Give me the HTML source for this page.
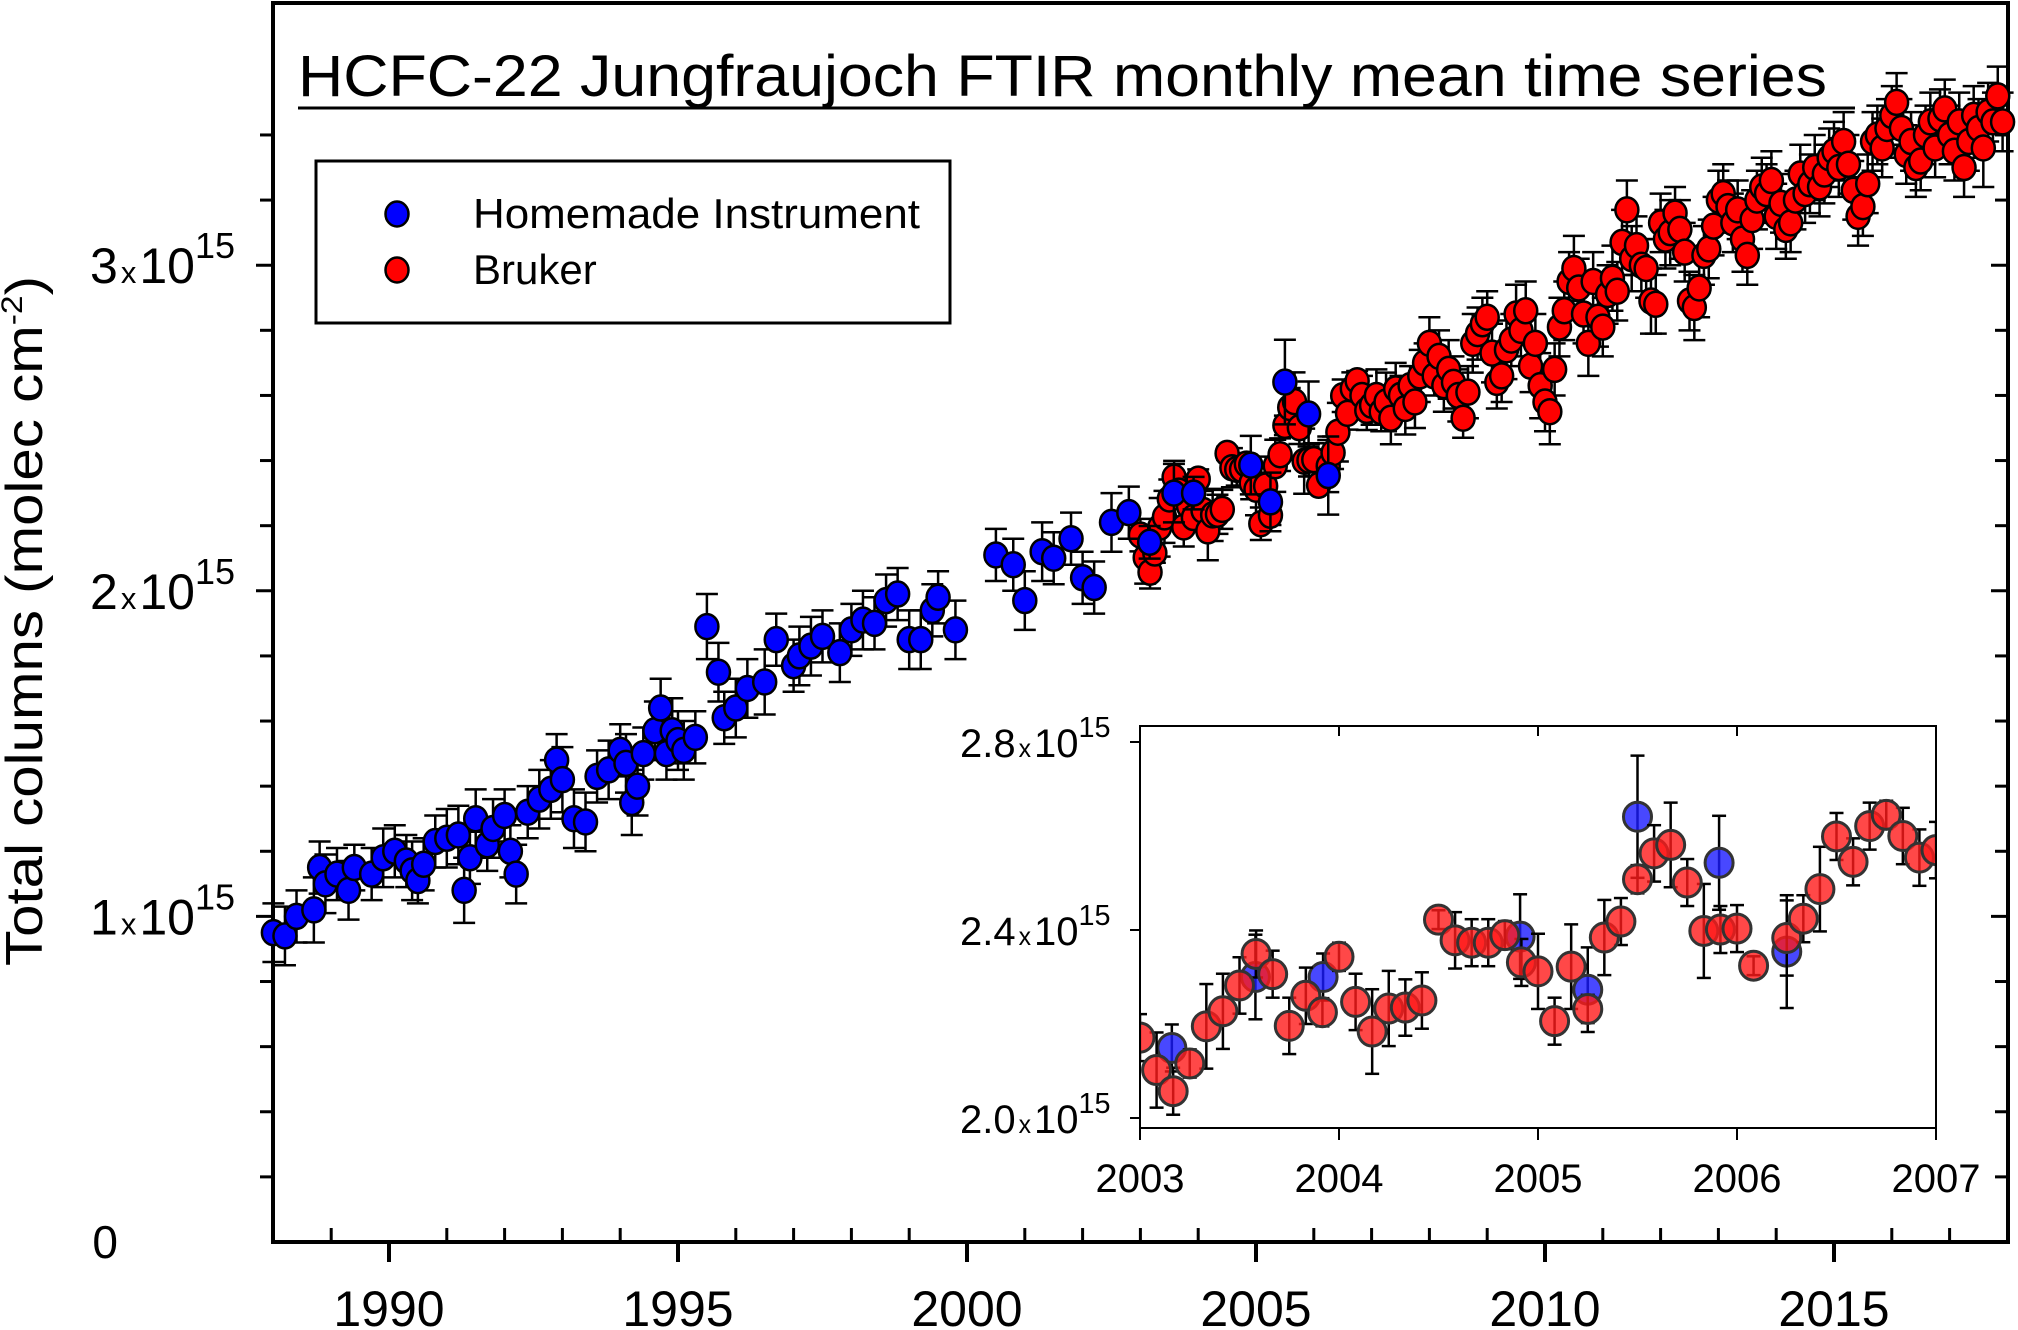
<!DOCTYPE html>
<html><head><meta charset="utf-8"><style>
html,body{margin:0;padding:0;background:#fff;}
svg{display:block;font-family:"Liberation Sans",sans-serif;}
</style></head><body>
<svg id="chart" width="2018" height="1330" viewBox="0 0 2018 1330" xmlns="http://www.w3.org/2000/svg">
<g id="main"></g>
</svg>
<script>
// ---------- data ----------
const blueYears = [1988.0,1988.2,1988.4,1988.7,1988.8,1988.9,1989.1,1989.3,1989.4,1989.7,1989.9,1990.1,1990.3,1990.4,1990.5,1990.6,1990.8,1991.0,1991.2,1991.3,1991.4,1991.5,1991.7,1991.8,1992.0,1992.1,1992.2,1992.4,1992.6,1992.8,1992.9,1993.0,1993.2,1993.4,1993.6,1993.8,1994.0,1994.1,1994.2,1994.3,1994.4,1994.6,1994.7,1994.8,1994.9,1995.0,1995.1,1995.3,1995.5,1995.7,1995.8,1996.0,1996.2,1996.5,1996.7,1997.0,1997.1,1997.3,1997.5,1997.8,1998.0,1998.2,1998.4,1998.6,1998.8,1999.0,1999.2,1999.4,1999.5,1999.8,2000.5,2000.8,2001.0,2001.3,2001.5,2001.8,2002.0,2002.2,2002.5,2002.8,2003.16,2003.58,2003.92,2004.91,2005.25,2005.5,2005.91,2006.25];
const blueValues = [0.95,0.94,1.00,1.02,1.15,1.10,1.13,1.08,1.15,1.13,1.18,1.20,1.17,1.14,1.11,1.16,1.23,1.24,1.25,1.08,1.18,1.30,1.22,1.27,1.31,1.20,1.13,1.32,1.36,1.39,1.48,1.42,1.30,1.29,1.43,1.45,1.51,1.47,1.35,1.40,1.50,1.57,1.64,1.50,1.57,1.54,1.51,1.55,1.89,1.75,1.61,1.64,1.70,1.72,1.85,1.77,1.80,1.83,1.86,1.81,1.88,1.91,1.90,1.97,1.99,1.85,1.85,1.94,1.98,1.88,2.11,2.08,1.97,2.12,2.10,2.16,2.04,2.01,2.21,2.24,2.149,2.30,2.30,2.386,2.273,2.641,2.543,2.354];
const blueErrors = [0.09,0.09,0.08,0.1,0.08,0.09,0.08,0.09,0.07,0.08,0.09,0.08,0.08,0.09,0.07,0.08,0.08,0.09,0.09,0.1,0.08,0.09,0.08,0.09,0.08,0.08,0.09,0.08,0.09,0.09,0.08,0.1,0.09,0.09,0.08,0.09,0.08,0.09,0.1,0.09,0.08,0.09,0.09,0.08,0.1,0.09,0.09,0.08,0.1,0.09,0.08,0.09,0.09,0.1,0.08,0.08,0.09,0.09,0.08,0.09,0.08,0.09,0.08,0.08,0.08,0.09,0.09,0.08,0.08,0.09,0.08,0.08,0.09,0.09,0.08,0.08,0.08,0.08,0.09,0.08,0.05,0.09,0.05,0.09,0.09,0.13,0.1,0.12];
const redStart = 2003.0; // monthly series
const redValues = [
2.171,2.102,2.057,2.116,2.195,2.227,2.282,2.349,2.306,2.196,2.260,2.225,
2.343,2.247,2.184,2.233,2.235,2.250,2.422,2.378,2.373,2.373,2.389,2.331,
2.312,2.206,2.322,2.232,2.384,2.418,2.508,2.563,2.581,2.501,2.398,2.401,
2.403,2.324,null,2.383,2.424,2.487,2.599,2.545,2.621,2.645,2.600,2.554,
2.57,2.60,2.55,2.58,2.53,2.62,2.60,2.56,2.63,2.58,2.66,2.70,
2.76,2.66,2.72,2.63,2.68,2.64,2.60,2.53,2.61,2.76,2.79,2.82,
2.84,2.73,2.64,2.66,2.74,2.77,2.85,2.80,2.86,2.69,2.76,2.63,
2.58,2.55,2.68,2.81,2.86,2.95,2.99,2.93,2.85,2.76,2.95,2.84,
2.81,2.91,2.96,2.92,3.07,3.17,3.02,3.06,3.00,2.99,2.89,2.88,
3.13,3.08,3.10,3.16,3.11,3.04,2.89,2.87,2.93,3.03,3.05,3.12,
3.20,3.22,3.18,3.13,3.17,3.08,3.03,3.14,3.20,3.24,3.22,3.26,
3.15,3.19,3.11,3.13,3.20,3.28,3.22,3.25,3.30,3.24,3.28,3.33,
3.35,3.30,3.38,3.31,3.23,3.15,3.18,3.25,3.38,3.40,3.36,3.42,
3.46,3.50,3.42,3.34,3.38,3.30,3.32,3.40,3.44,3.36,3.45,3.48,
3.40,3.35,3.44,3.30,3.38,3.46,3.42,3.36,3.47,3.44,3.52,3.44];
const redErrors = [
0.05,0.08,0.05,0.03,0.09,0.08,0.06,0.05,0.05,0.06,0.06,0.03,
0.03,0.06,0.09,0.08,0.06,0.06,0.02,0.06,0.05,0.05,0.03,0.05,
0.08,0.05,0.09,0.03,0.08,0.05,0.03,0.06,0.09,0.05,0.1,0.05,
0.05,0.02,0.06,0.08,0.05,0.09,0.05,0.05,0.05,0.03,0.06,0.06,
0.06,0.08,0.06,0.09,0.08,0.08,0.06,0.08,0.06,0.08,0.08,0.06,
0.08,0.06,0.08,0.08,0.09,0.08,0.08,0.06,0.08,0.09,0.08,0.08,
0.08,0.09,0.08,0.08,0.09,0.08,0.09,0.08,0.09,0.08,0.09,0.1,
0.09,0.1,0.08,0.09,0.09,0.09,0.1,0.09,0.09,0.1,0.09,0.09,
0.09,0.09,0.1,0.09,0.1,0.09,0.1,0.09,0.08,0.09,0.1,0.09,
0.09,0.09,0.1,0.08,0.09,0.09,0.09,0.1,0.09,0.09,0.09,0.09,
0.09,0.09,0.08,0.09,0.09,0.1,0.09,0.09,0.09,0.09,0.09,0.09,
0.1,0.09,0.09,0.09,0.09,0.09,0.09,0.09,0.1,0.09,0.09,0.09,
0.09,0.09,0.09,0.09,0.09,0.09,0.09,0.09,0.09,0.09,0.09,0.09,
0.09,0.09,0.09,0.09,0.09,0.09,0.09,0.09,0.09,0.09,0.09,0.09,
0.09,0.09,0.09,0.09,0.09,0.09,0.09,0.12,0.09,0.09,0.09,0.09];
const xTickLabels = ["1990","1995","2000","2005","2010","2015"];
const yTickValues = [1,2,3];
const insetXTickLabels = ["2003","2004","2005","2006","2007"];
const insetYTickLabels = ["2.0","2.4","2.8"];

// ---------- scales ----------
const X = yr => 273.4 + (yr - 1988) * 57.8;
const Y = v => 1242 - v * 325.6;
const IX = yr => 1140 + (yr - 2003) * 199;
const IY = v => 1118 - (v - 2.0) * 470;
const NS = "http://www.w3.org/2000/svg";
const root = document.getElementById("main");
function mk(tag, attrs, parent) {
  const e = document.createElementNS(NS, tag);
  for (const k in attrs) e.setAttribute(k, attrs[k]);
  (parent || root).appendChild(e);
  return e;
}
function sci(parent, x, y, mant, size) {
  const t = mk("text", {x: x, y: y, "font-size": size, fill: "#000"}, parent);
  t.innerHTML = mant + '<tspan font-size="' + (size*0.62) + '" dx="3">x</tspan><tspan dx="3">10</tspan><tspan font-size="' + (size*0.72) + '" dy="' + (-size*0.5) + '">15</tspan>';
  return t;
}
const redYears = redValues.map((v, i) => redStart + i / 12);

// ---------- main axes ----------
const axes = mk("g", {});


mk("rect", {x: 273, y: 3, width: 1735, height: 1239, fill: "none", stroke: "#000", "stroke-width": 4}, axes);
for (let v = 0.2; v < 3.6; v += 0.2) {
  const major = Math.abs(v - Math.round(v)) < 0.01;
  const y = Y(v);
  mk("line", {x1: major ? 256 : 260, x2: 273, y1: y, y2: y, stroke: "#000", "stroke-width": 3}, axes);
  mk("line", {x1: 2008, x2: major ? 1991 : 1995, y1: y, y2: y, stroke: "#000", "stroke-width": 3}, axes);
}
for (let yr = 1989; yr <= 2017; yr++) {
  const major = yr % 5 === 0;
  const x = X(yr);
  if (major) mk("line", {x1: x, x2: x, y1: 1242, y2: 1262, stroke: "#000", "stroke-width": 4}, axes);
  else mk("line", {x1: x, x2: x, y1: 1242, y2: 1228, stroke: "#000", "stroke-width": 3}, axes);
}
xTickLabels.forEach(l => {
  const t = mk("text", {x: X(+l), y: 1326, "font-size": 50, "text-anchor": "middle"}, axes);
  t.textContent = l;
  
  
});
const z = mk("text", {x: 118, y: 1258, "font-size": 46, "text-anchor": "end"}, axes);
z.textContent = "0";


yTickValues.forEach(v => {
  const t = sci(axes, 90, Y(v) + 18, String(v), 50);
  
  
});
const yl = mk("text", {x: 0, y: 0, "font-size": 52, "text-anchor": "middle", textLength: 690, lengthAdjust: "spacingAndGlyphs", transform: "translate(42,621) rotate(-90)"}, axes);
yl.innerHTML = 'Total columns (molec cm<tspan font-size="30" dy="-20">-2</tspan><tspan dy="20">)</tspan>';



// title
const title = mk("text", {x: 298, y: 96, "font-size": 58, textLength: 1529, lengthAdjust: "spacingAndGlyphs"}, root);
title.textContent = "HCFC-22 Jungfraujoch FTIR monthly mean time series";


const ul = mk("line", {x1: 298, x2: 1855, y1: 108, y2: 108, stroke: "#000", "stroke-width": 3}, root);



// ---------- series ----------
function errBar(g, x, y1, y2, cap) {
  mk("line", {x1: x, x2: x, y1: y1, y2: y2, stroke: "#000", "stroke-width": 2.5}, g);
  mk("line", {x1: x - cap, x2: x + cap, y1: y1, y2: y1, stroke: "#000", "stroke-width": 2.5}, g);
  mk("line", {x1: x - cap, x2: x + cap, y1: y2, y2: y2, stroke: "#000", "stroke-width": 2.5}, g);
}
function drawMain(years, vals, errs, color, name) {
  const g = mk("g", {});
  
  
  vals.forEach((v, i) => {
    if (v === null) return;
    errBar(g, X(years[i]), Y(v + errs[i]), Y(v - errs[i]), 11);
  });
  vals.forEach((v, i) => {
    if (v === null) return;
    const c = mk("ellipse", {cx: X(years[i]), cy: Y(v), rx: 11.5, ry: 12.5, fill: color, stroke: "#000", "stroke-width": 2.5}, g);
    
    
  });
}
drawMain(redYears, redValues, redErrors, "#ff0000", "bruker-series");
drawMain(blueYears, blueValues, blueErrors, "#0000ff", "homemade-series");

// ---------- legend ----------
const lg = mk("g", {});


mk("rect", {x: 316, y: 161, width: 634, height: 162, fill: "#fff", stroke: "#000", "stroke-width": 3}, lg);
mk("ellipse", {cx: 397, cy: 214, rx: 11.5, ry: 12.5, fill: "#0000ff", stroke: "#000", "stroke-width": 2.5}, lg);
mk("ellipse", {cx: 397, cy: 270, rx: 11.5, ry: 12.5, fill: "#ff0000", stroke: "#000", "stroke-width": 2.5}, lg);
const l1 = mk("text", {x: 473, y: 228, "font-size": 42, textLength: 447, lengthAdjust: "spacingAndGlyphs"}, lg); l1.textContent = "Homemade Instrument";


const l2 = mk("text", {x: 473, y: 284, "font-size": 42}, lg); l2.textContent = "Bruker";



// ---------- inset ----------
const ins = mk("g", {});


mk("rect", {x: 1140, y: 726, width: 796, height: 402, fill: "#fff", stroke: "#000", "stroke-width": 2}, ins);
insetXTickLabels.forEach(l => {
  const x = IX(+l);
  mk("line", {x1: x, x2: x, y1: 726, y2: 736, stroke: "#000", "stroke-width": 2}, ins);
  mk("line", {x1: x, x2: x, y1: 1128, y2: 1140, stroke: "#000", "stroke-width": 2}, ins);
  const t = mk("text", {x: x, y: 1192, "font-size": 40, "text-anchor": "middle"}, ins);
  t.textContent = l;
  
  
});
insetYTickLabels.forEach(l => {
  const y = IY(+l);
  mk("line", {x1: 1130, x2: 1140, y1: y, y2: y, stroke: "#000", "stroke-width": 2}, ins);
  const t = sci(ins, 960, y + 15, l, 40);
  
  
});
const clip = mk("clipPath", {id: "insclip"}, ins);
mk("rect", {x: 1141, y: 727, width: 794, height: 400}, clip);
const ig = mk("g", {"clip-path": "url(#insclip)"}, ins);
function drawInset(years, vals, errs, color, name) {
  const g = mk("g", {}, ig);
  
  
  vals.forEach((v, i) => {
    if (v === null || years[i] < 2002.95 || years[i] > 2007.05) return;
    errBar(g, IX(years[i]), IY(v + errs[i]), IY(v - errs[i]), 7);
  });
  vals.forEach((v, i) => {
    if (v === null || years[i] < 2002.95 || years[i] > 2007.05) return;
    const c = mk("ellipse", {cx: IX(years[i]), cy: IY(v), rx: 14, ry: 14.5, fill: color, "fill-opacity": 0.8, stroke: "#333", "stroke-width": 3}, g);
    
    
  });
}
drawInset(blueYears, blueValues, blueErrors, "#1a1aff", "inset-homemade-series");
drawInset(redYears, redValues, redErrors, "#ff1a1a", "inset-bruker-series");
</script>
</body></html>
